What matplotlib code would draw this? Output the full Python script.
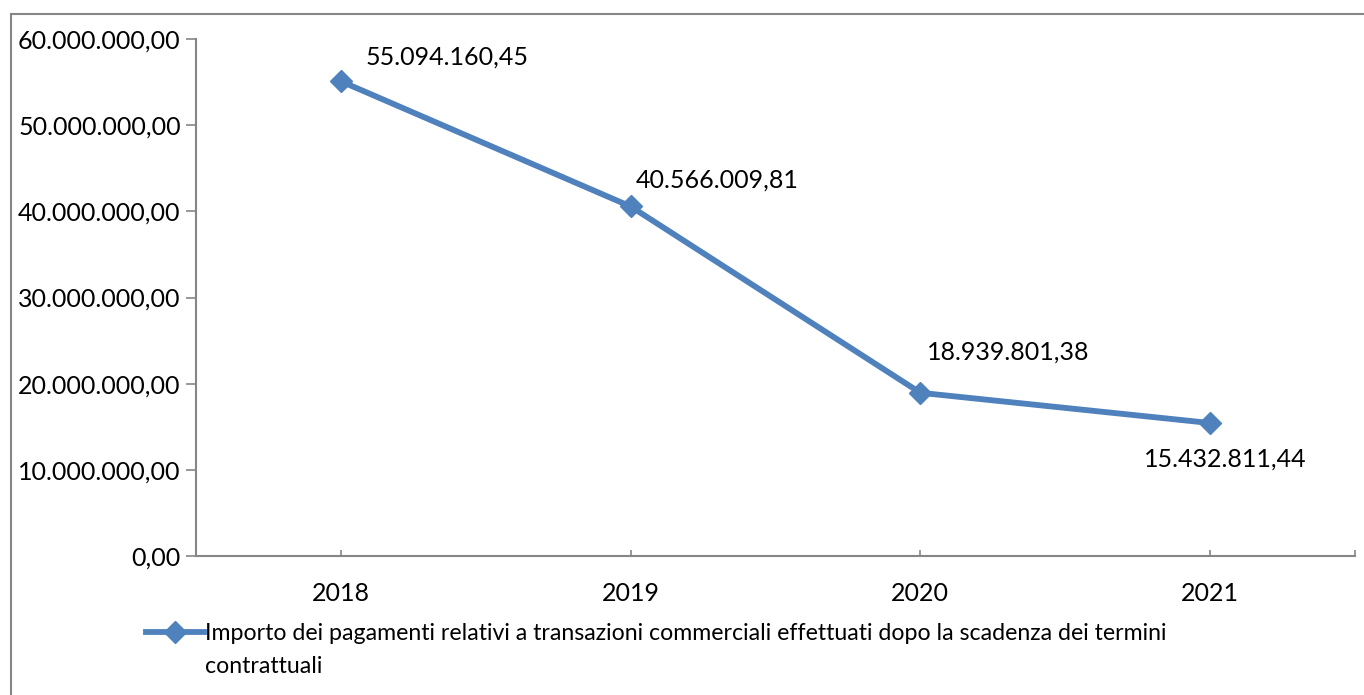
import matplotlib.pyplot as plt
from matplotlib.patches import Rectangle
from matplotlib.ticker import FuncFormatter

years = ["2018", "2019", "2020", "2021"]
importi = [55094160.45, 40566009.81, 18939801.38, 15432811.44]
label_serie = "Importo dei pagamenti relativi a transazioni commerciali effettuati dopo la scadenza dei termini"
label_serie_2 = "contrattuali"
y_ticks = [0, 10e6, 20e6, 30e6, 40e6, 50e6, 60e6]

# offsets of the data labels (pixels) and their alignment
label_offsets = [(25, 24, "left"), (5, 26, "left"), (7, 41, "left"), (15, -36, "center")]

blue = "#4F81BD"
grey = "#868686"
plt.rcParams["font.family"] = ["Lato", "DejaVu Sans"]
fs = 18
fs_leg = 16.7


def it_fmt(v, pos=None):
    s = f"{v:,.2f}"
    return s.replace(",", "X").replace(".", ",").replace("X", ".")


W, H = 1364, 695
fig = plt.figure(figsize=(W / 100, H / 100), dpi=100)
ax = fig.add_axes([196 / W, 1 - 556 / H, (1355 - 196) / W, (556 - 39) / H])

x = list(range(len(years)))
ax.plot(x, importi, color=blue, lw=4.2, marker="D", markersize=11,
        solid_joinstyle="miter", label=label_serie)

for xi, v, (dx, dy, ha) in zip(x, importi, label_offsets):
    ax.annotate(it_fmt(v), (xi, v), xytext=(dx, dy), textcoords="offset pixels",
                ha=ha, va="center", fontsize=fs, color="black")

ax.set_xlim(-0.5, len(years) - 0.5)
ax.set_ylim(0, 60e6)
ax.set_yticks(y_ticks)
ax.yaxis.set_major_formatter(FuncFormatter(it_fmt))
ax.set_xticks(x + [len(years) - 0.5])
ax.set_xticklabels(years + [""])

for s in ["top", "right"]:
    ax.spines[s].set_visible(False)
for s in ["left", "bottom"]:
    ax.spines[s].set_color(grey)
    ax.spines[s].set_linewidth(1.5)
ax.tick_params(axis="y", direction="out", length=7, width=1.2, color=grey,
               labelsize=fs, pad=4)
ax.tick_params(axis="x", direction="in", length=4, width=1.2, color=grey,
               labelsize=fs, pad=19)

leg = fig.legend(loc="upper left", bbox_to_anchor=(146 / W, 1 - 623 / H),
                 frameon=False, fontsize=fs_leg, handlelength=2.5, handletextpad=0.05,
                 borderaxespad=0, borderpad=0)
fig.canvas.draw()
bb = leg.get_texts()[0].get_window_extent()
fig.text(bb.x0 / W, (bb.y0 - 33) / H, label_serie_2, fontsize=fs_leg,
         ha="left", va="bottom")

# outer chart-area border
fig.patches.append(Rectangle((11 / W, -0.1), 1.2, 1 - 14 / H + 0.1,
                             transform=fig.transFigure, fill=False,
                             edgecolor=grey, lw=1.5))

fig.savefig("out.png", dpi=100)
